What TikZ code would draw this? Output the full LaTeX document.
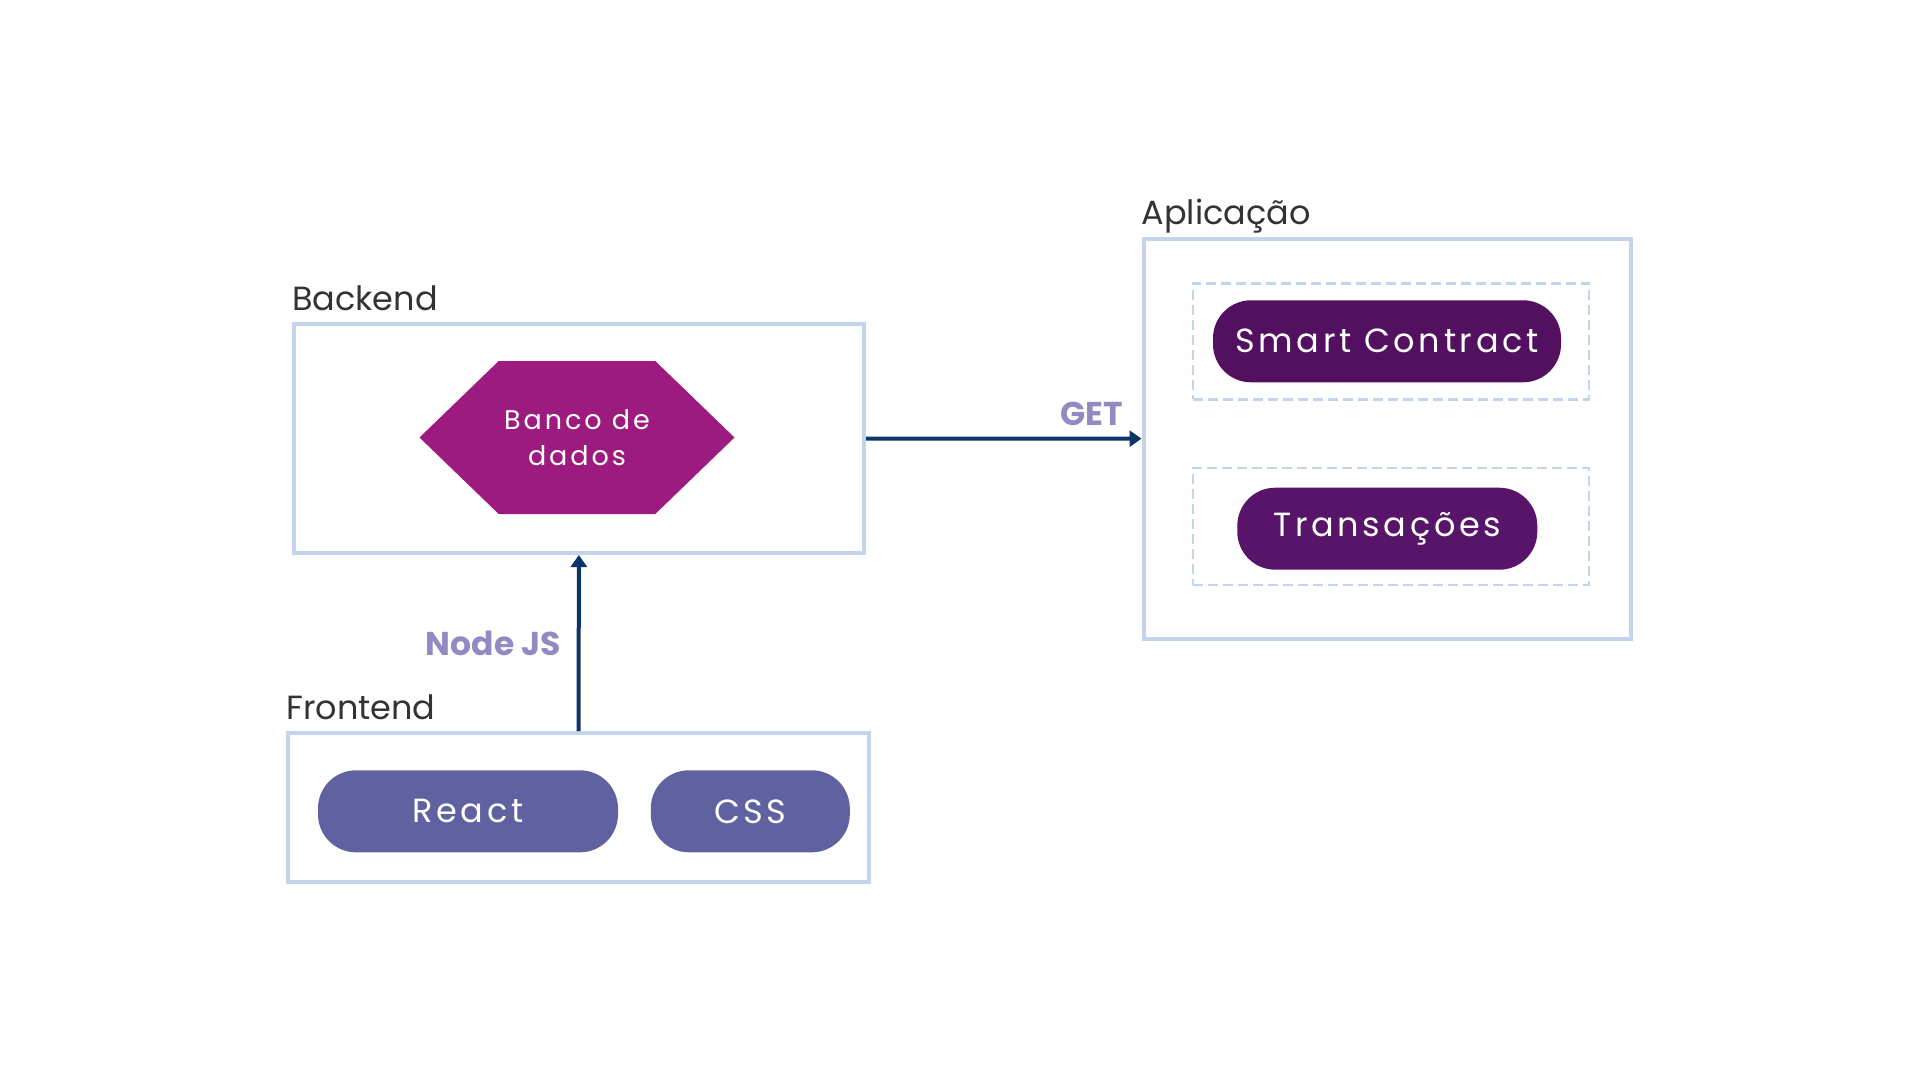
\documentclass[tikz,border=0pt]{standalone}
\usepackage{fontspec}
\setmainfont{Poppins}
\newfontfamily\pillfont[LetterSpace=11]{Poppins}
\usetikzlibrary{shapes.misc, shapes.symbols, arrows.meta, positioning}
\definecolor{boxblue}{HTML}{C3D4EC}
\definecolor{arrownavy}{HTML}{0B3468}
\definecolor{labelpurple}{HTML}{918AC3}
\definecolor{titlegray}{HTML}{333333}
\definecolor{bancopurple}{HTML}{9D1B7F}
\definecolor{frontpurple}{HTML}{5F61A0}
\definecolor{contractpurple}{HTML}{530F60}
\definecolor{transpurple}{HTML}{581468}

\begin{document}
\begin{tikzpicture}[
    x=1pt, y=-1pt,
    group/.style={rectangle, draw=boxblue, line width=4pt, fill=white},
    subgroup/.style={rectangle, draw=boxblue, line width=2.5pt, dash pattern=on 10pt off 5pt},
    pill/.style={rectangle, rounded corners=38pt, minimum height=82pt, text=white, font=\pillfont\fontsize{33.5}{40}\selectfont},
    hexagon/.style={signal, signal to=west and east, signal pointer angle=88, fill=bancopurple, minimum width=315pt, minimum height=153pt, text=white, align=center, inner sep=0pt, font=\pillfont\fontsize{27}{36.7}\selectfont},
    title/.style={font=\fontsize{33.5}{40}\selectfont, text=titlegray, inner sep=0pt},
    edgelabel/.style={font=\bfseries\fontsize{33}{40}\selectfont, text=labelpurple, inner sep=0pt},
    arrow/.style={line width=4pt, ->, >={Triangle[length=12pt, width=16pt]}, draw=arrownavy}
]
\useasboundingbox (0,0) rectangle (1920,1080);

% backend
\node (backend) [group, minimum width=570pt, minimum height=229pt] at (579,438.5) {};
\node (banco) [hexagon] at (577,437.5) {Banco de\\dados};
\node (backendlabel) [title, above right=12pt and 0pt of backend.north west, anchor=base west] {Backend};

% frontend
\node (frontend) [group, minimum width=581pt, minimum height=149pt] at (578.5,807.5) {};
\node (react) [pill, fill=frontpurple, minimum width=300pt] at (468,811.3) {React};
\node (css) [pill, fill=frontpurple, minimum width=199pt] at (750.3,811.3) {CSS};
\node (frontendlabel) [title, above right=12pt and 0pt of frontend.north west, anchor=base west] {Frontend};

% aplicacao
\node (app) [group, minimum width=487pt, minimum height=400pt] at (1387,438.7) {};
\node (contractbox) [subgroup, minimum width=396pt, minimum height=116pt] at (1391,341.3) {};
\node (contract) [pill, fill=contractpurple, minimum width=348pt] at (1387,341.3) {Smart Contract};
\node (transbox) [subgroup, minimum width=396pt, minimum height=117pt] at (1391,526.7) {};
\node (trans) [pill, fill=transpurple, minimum width=300pt] at (1387.3,528.7) {Transações};
\node (applabel) [title, above right=12pt and 0pt of app.north west, anchor=base west] {Aplicação};

\draw [arrow] (frontend) -- (backend) node [edgelabel, midway, left=16pt] (nodejs) {Node JS};
\draw [arrow] (backend) -- (app) node [edgelabel, pos=0.82, above=11pt] (get) {GET};

\end{tikzpicture}
\end{document}
